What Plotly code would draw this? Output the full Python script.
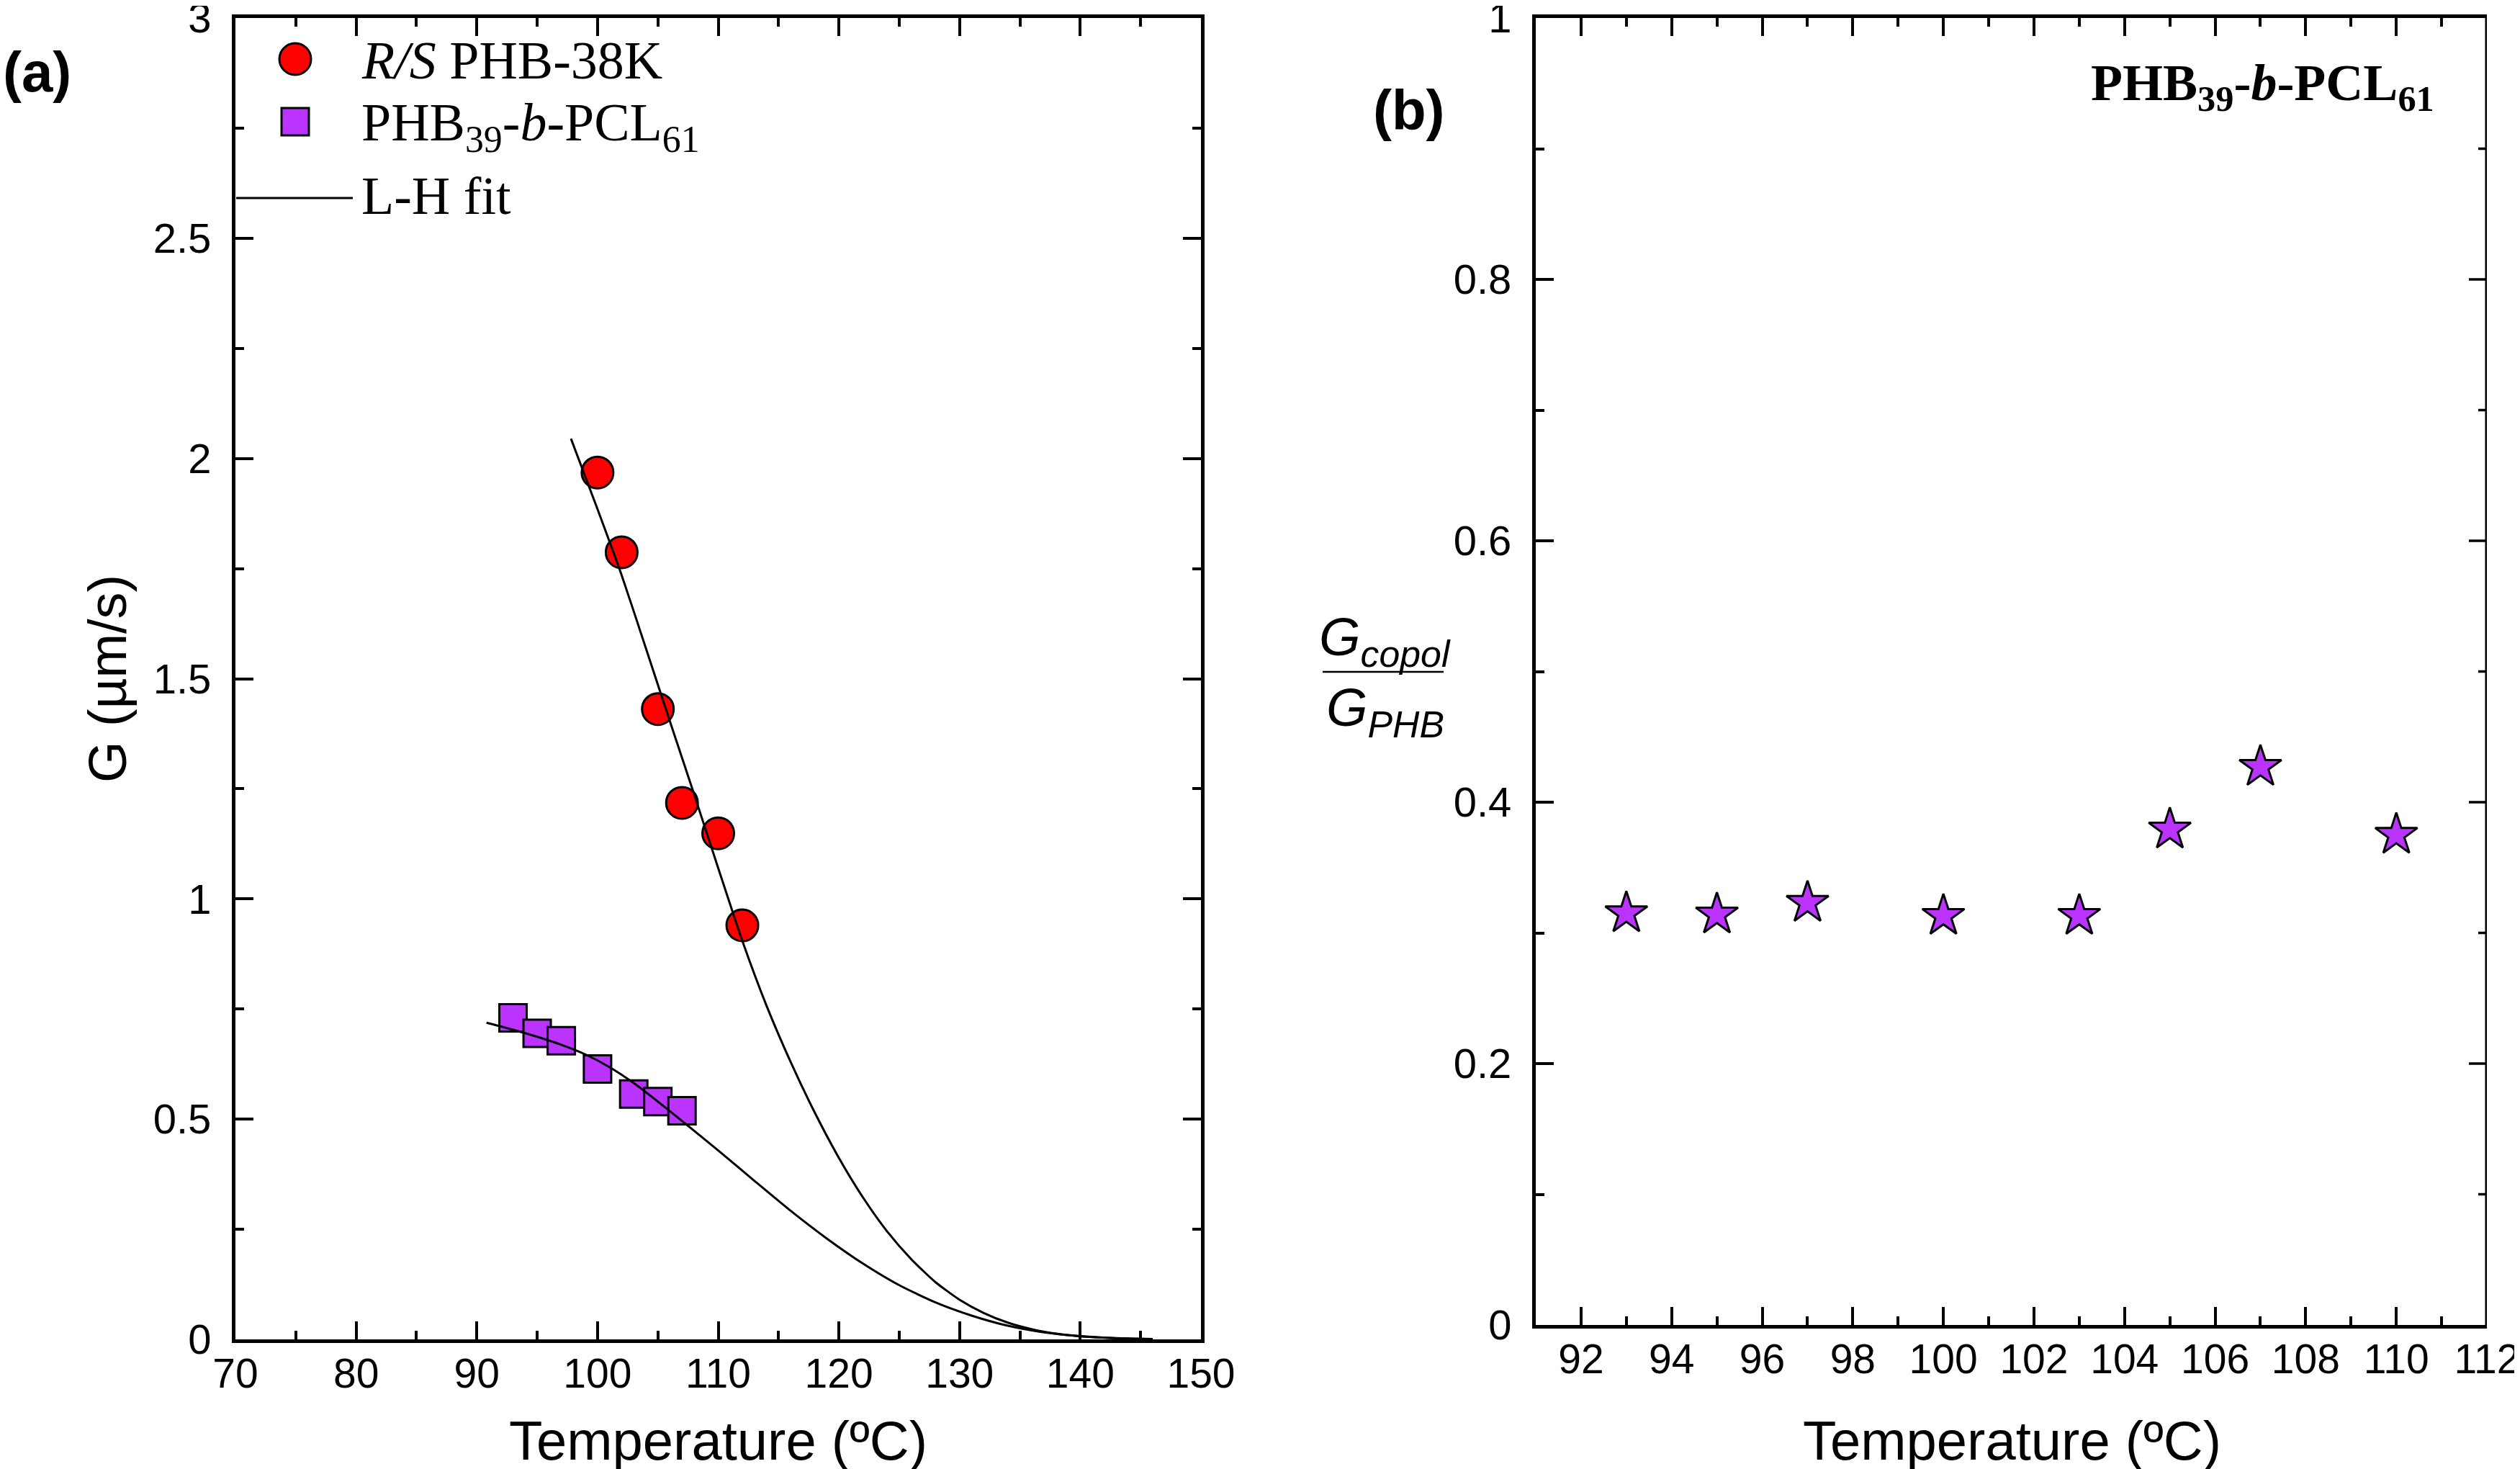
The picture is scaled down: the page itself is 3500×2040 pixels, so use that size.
import plotly.graph_objects as go

# page is 3500x2040; the html body adds an 8 px margin
PAGE_W, PAGE_H = 3500, 2040
OFF = 8
W, H = PAGE_W - OFF, PAGE_H - OFF

# ---------------- data: panel (a) ----------------
rs_T = [100, 102, 105, 107, 110, 112]
rs_G = [1.968, 1.787, 1.431, 1.218, 1.149, 0.940]

co_T = [93, 95, 97, 100, 103, 105, 107]
co_G = [0.730, 0.695, 0.678, 0.614, 0.557, 0.540, 0.519]

# L-H fit curves
fit_rs_T = [97.8, 100, 102, 104, 106, 108, 110, 112, 114, 116, 118, 120, 122, 124,
            126, 128, 130, 132, 134, 136, 138, 140, 143, 146]
fit_rs_G = [2.045, 1.885, 1.735, 1.570, 1.403, 1.238, 1.070, 0.905, 0.758, 0.630,
            0.515, 0.412, 0.322, 0.245, 0.182, 0.130, 0.090, 0.060, 0.038, 0.023,
            0.013, 0.007, 0.0025, 0.0008]

fit_co_T = [90.8, 93, 95, 97, 99, 101, 103, 105, 107, 110, 113, 116, 119, 122, 125,
            128, 131, 134, 137, 140, 143, 146]
fit_co_G = [0.719, 0.703, 0.687, 0.669, 0.647, 0.618, 0.582, 0.540, 0.496, 0.429,
            0.360, 0.292, 0.229, 0.172, 0.123, 0.084, 0.054, 0.031, 0.016, 0.0075,
            0.003, 0.001]

a_xticks = [70, 80, 90, 100, 110, 120, 130, 140, 150]
a_xticklabels = ["70", "80", "90", "100", "110", "120", "130", "140", "150"]
a_yticks = [0, 0.5, 1, 1.5, 2, 2.5, 3]
a_yticklabels = ["0", "0.5", "1", "1.5", "2", "2.5", "3"]

# ---------------- data: panel (b) ----------------
ratio_T = [93, 95, 97, 100, 103, 105, 107, 110]
ratio_G = [0.315, 0.314, 0.323, 0.313, 0.313, 0.379, 0.427, 0.375]

b_xticks = [92, 94, 96, 98, 100, 102, 104, 106, 108, 110, 112]
b_xticklabels = ["92", "94", "96", "98", "100", "102", "104", "106", "108", "110", "112"]
b_yticks = [0, 0.2, 0.4, 0.6, 0.8, 1]
b_yticklabels = ["0", "0.2", "0.4", "0.6", "0.8", "1"]
b_xrange = [91, 112]

legend_labels = ["<i>R/S</i> PHB-38K", "PHB<sub>39</sub>-<i>b</i>-PCL<sub>61</sub>", "L-H fit"]

# ---------------- styling ----------------
RED = "#FF0000"
PURPLE = "#BB33FF"
SANS = "Liberation Sans, Arial, sans-serif"
SERIF = "Liberation Serif, Times New Roman, serif"


def px(x):
    return (x - OFF) / W


def py(y):
    return 1 - (y - OFF) / H


fig = go.Figure()

fig.add_trace(go.Scatter(
    x=rs_T, y=rs_G, mode="markers", name=legend_labels[0], showlegend=False,
    marker=dict(symbol="circle", size=44, color=RED, line=dict(color="black", width=3)),
    xaxis="x", yaxis="y"))
fig.add_trace(go.Scatter(
    x=co_T, y=co_G, mode="markers", name=legend_labels[1], showlegend=False,
    marker=dict(symbol="square", size=38, color=PURPLE, line=dict(color="black", width=3)),
    xaxis="x", yaxis="y"))
fig.add_trace(go.Scatter(
    x=fit_rs_T, y=fit_rs_G, mode="lines", name=legend_labels[2], showlegend=False,
    line=dict(color="black", width=3, shape="spline", smoothing=0.6),
    xaxis="x", yaxis="y"))
fig.add_trace(go.Scatter(
    x=fit_co_T, y=fit_co_G, mode="lines", name=legend_labels[2], showlegend=False,
    line=dict(color="black", width=3, shape="spline", smoothing=0.6),
    xaxis="x", yaxis="y"))

fig.add_trace(go.Scatter(
    x=ratio_T, y=ratio_G, mode="markers", name="G_copol/G_PHB", showlegend=False,
    marker=dict(symbol="star", size=44, color=PURPLE, line=dict(color="black", width=3)),
    xaxis="x2", yaxis="y2"))


def axis(domain, rng, tickvals, ticktext, minor_dtick, anchor, standoff, fsize, mirror="ticks"):
    return dict(
        domain=domain, range=rng, anchor=anchor, automargin=False,
        tickmode="array", tickvals=tickvals, ticktext=ticktext,
        showline=True, linecolor="black", linewidth=5, mirror=mirror,
        ticks="inside", ticklen=25, tickwidth=3.5, tickcolor="black",
        minor=dict(ticks="inside", ticklen=12, tickwidth=3.5, tickcolor="black",
                   dtick=minor_dtick, showgrid=False),
        showgrid=False, zeroline=False,
        tickfont=dict(family=SANS, size=fsize, color="black"),
        ticklabelstandoff=standoff, ticklabeloverflow="allow",
    )


fig.update_layout(
    width=W, height=H,
    margin=dict(l=0, r=0, t=0, b=0, pad=0, autoexpand=False),
    paper_bgcolor="white", plot_bgcolor="white",
    showlegend=False,
    xaxis=axis([px(327), px(1668)], [70, 150], a_xticks, a_xticklabels, 5, "y", -6, 57),
    yaxis=axis([py(1860), py(25)], [0, 3], a_yticks, a_yticklabels, 0.25, "x", 17, 58),
    xaxis2=axis([px(2133), px(3454)], b_xrange, b_xticks, b_xticklabels, 1, "y2", -6, 57),
    yaxis2=axis([py(1840), py(25)], [0, 1], b_yticks, b_yticklabels, 0.1, "x2", 17, 58,
                mirror=False),
)

annotations = []
# panel labels
annotations.append(dict(text="<b>(a)</b>", x=px(51), y=py(100), xref="paper", yref="paper",
                        xanchor="center", yanchor="middle", showarrow=False,
                        font=dict(family=SANS, size=78, color="black")))
annotations.append(dict(text="<b>(b)</b>", x=px(1957), y=py(153), xref="paper", yref="paper",
                        xanchor="center", yanchor="middle", showarrow=False,
                        font=dict(family=SANS, size=78, color="black")))
# axis titles
for cx in (997, 2794):
    annotations.append(dict(text="Temperature (ºC)", x=px(cx), y=py(2000), xref="paper",
                            yref="paper", xanchor="center", yanchor="middle", showarrow=False,
                            font=dict(family=SANS, size=76, color="black")))
annotations.append(dict(text="G (µm/s)", x=px(150), y=py(943), xref="paper", yref="paper",
                        xanchor="center", yanchor="middle", showarrow=False, textangle=-90,
                        font=dict(family=SANS, size=74, color="black")))
annotations.append(dict(text="<i>G</i><sub><i>copol</i></sub>", x=px(1923), y=py(890),
                        xref="paper", yref="paper", xanchor="center", yanchor="middle",
                        showarrow=False, font=dict(family=SANS, size=74, color="black")))
annotations.append(dict(text="<i>G</i><sub><i>PHB</i></sub>", x=px(1924), y=py(988),
                        xref="paper", yref="paper", xanchor="center", yanchor="middle",
                        showarrow=False, font=dict(family=SANS, size=74, color="black")))
# panel b label
annotations.append(dict(text="<b>PHB<sub>39</sub>-<i>b</i>-PCL<sub>61</sub></b>", x=px(3383),
                        y=py(120), xref="paper", yref="paper", xanchor="right", yanchor="middle",
                        showarrow=False, font=dict(family=SERIF, size=72, color="black")))
# legend texts
for lbl, yy in zip(legend_labels, (84, 176, 272)):
    annotations.append(dict(text=lbl, x=px(500), y=py(yy), xref="paper", yref="paper",
                            xanchor="left", yanchor="middle", showarrow=False,
                            font=dict(family=SERIF, size=74, color="black")))
fig.update_layout(annotations=annotations)

shapes = []
# right frame of panel (b), drawn at the upper end of its x range, with its mirrored ticks
x_right = b_xrange[1]
shapes.append(dict(type="line", xref="x2", yref="y2", x0=x_right, x1=x_right,
                   y0=b_yticks[0], y1=b_yticks[-1], line=dict(color="black", width=5)))
for i in range(len(b_yticks) - 1):
    lo, hi = b_yticks[i], b_yticks[i + 1]
    mid = (lo + hi) / 2
    shapes.append(dict(type="line", xref="x2", yref="y2", xsizemode="pixel", xanchor=x_right,
                       x0=-12, x1=0, y0=mid, y1=mid, line=dict(color="black", width=3.5)))
    if i > 0:
        shapes.append(dict(type="line", xref="x2", yref="y2", xsizemode="pixel",
                           xanchor=x_right, x0=-25, x1=0, y0=lo, y1=lo,
                           line=dict(color="black", width=3.5)))
# fraction bar
shapes.append(dict(type="line", xref="paper", yref="paper", x0=px(1837), x1=px(2005),
                   y0=py(933), y1=py(933), line=dict(color="black", width=2.5)))
# legend symbols
shapes.append(dict(type="circle", xref="paper", yref="paper", x0=px(388), x1=px(432),
                   y0=py(104), y1=py(60), fillcolor=RED, line=dict(color="black", width=3)))
shapes.append(dict(type="rect", xref="paper", yref="paper", x0=px(391), x1=px(429),
                   y0=py(188), y1=py(150), fillcolor=PURPLE, line=dict(color="black", width=3)))
shapes.append(dict(type="line", xref="paper", yref="paper", x0=px(328), x1=px(490),
                   y0=py(275), y1=py(275), line=dict(color="black", width=3)))
fig.update_layout(shapes=shapes)

fig.write_html("out.html")
